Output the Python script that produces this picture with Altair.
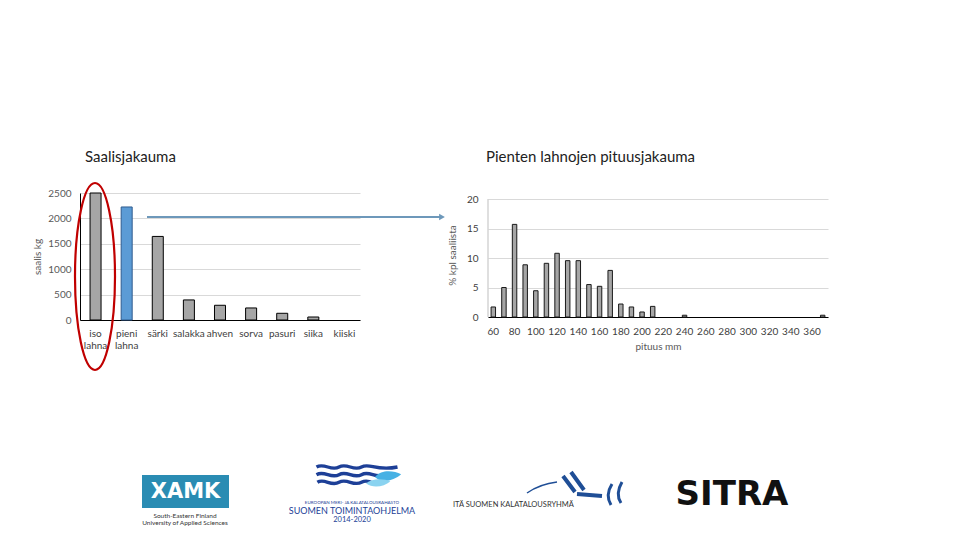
import altair as alt
import pandas as pd

# ---------------- data ----------------
species = ["iso lahna", "pieni lahna", "särki", "salakka", "ahven",
           "sorva", "pasuri", "siika", "kiiski"]
catch_kg = [2500, 2225, 1645, 395, 290, 237, 132, 59, 0]
highlight = "pieni lahna"
catch_ticks = [0, 500, 1000, 1500, 2000, 2500]

lengths_mm = [60, 70, 80, 90, 100, 110, 120, 130, 140, 150, 160, 170, 180,
              190, 200, 210, 220, 230, 240, 250, 260, 270, 280, 290, 300,
              310, 320, 330, 340, 350, 360, 370]
share_pct = [1.7, 5.0, 15.7, 8.85, 4.45, 9.1, 10.8, 9.55, 9.55, 5.5, 5.2,
             7.9, 2.2, 1.7, 0.85, 1.8, 0, 0, 0.3, 0, 0, 0, 0, 0, 0,
             0, 0, 0, 0, 0, 0, 0.3]
length_ticks = [60, 80, 100, 120, 140, 160, 180, 200, 220, 240, 260, 280,
                300, 320, 340, 360]
share_ticks = [0, 5, 10, 15, 20]

left_df = pd.DataFrame({"laji": species, "saalis": catch_kg})
right_df = pd.DataFrame({"pituus": lengths_mm, "osuus": share_pct})

GRAY = "#a6a6a6"
BLUE = "#5b9bd5"
ONE = alt.Data(values=[{"k": 1}])


def text_layer(txt, x, y, size, color="#222222", weight="normal",
               font="Lato", align="center"):
    return alt.Chart(ONE).mark_text(
        text=txt, fontSize=size, color=color, fontWeight=weight, font=font,
        align=align, baseline="middle"
    ).encode(x=alt.value(x), y=alt.value(y))


def path_layer(path, x, y, r, color, width=1.0, filled=False):
    kw = dict(shape=path, size=(2 * r) ** 2, filled=filled, color=color,
              opacity=1)
    if not filled:
        kw["strokeWidth"] = width
    return alt.Chart(ONE).mark_point(**kw).encode(x=alt.value(x), y=alt.value(y))


# ---------------- left chart ----------------
left_stroke = (
    alt.when(alt.datum.saalis <= 0).then(alt.value("transparent"))
    .when(alt.datum.laji == highlight).then(alt.value("#2f5b8f"))
    .otherwise(alt.value("#000000"))
)

bars_left = alt.Chart(left_df).mark_bar(strokeWidth=1).encode(
    x=alt.X("laji:N", sort=species,
            scale=alt.Scale(paddingInner=0.646, paddingOuter=0.323),
            axis=alt.Axis(title=None, labelAngle=0, labelPadding=8,
                          labelExpr="split(datum.label, ' ')",
                          labelLineHeight=12, labelColor="#404040",
                          grid=False, domainColor="#000000")),
    y=alt.Y("saalis:Q", scale=alt.Scale(domain=[0, 2500], nice=False),
            axis=alt.Axis(title="saalis kg", values=catch_ticks, format="d",
                          labelPadding=9, titlePadding=5, grid=True,
                          domainColor="#000000")),
    fill=alt.condition(alt.datum.laji == highlight, alt.value(BLUE), alt.value(GRAY)),
    stroke=left_stroke,
)

# invisible frame fixing the slide area (page 8..952 x 8..532)
frame = alt.Chart(ONE).mark_rect(opacity=0).encode(
    x=alt.value(-72), x2=alt.value(872), y=alt.value(-185), y2=alt.value(339))

ell_a = 0.214
ell_k = 0.118
ellipse_path = (f"M 0 -1 C {ell_k} -1 {ell_a} -0.552 {ell_a} 0 "
                f"C {ell_a} 0.552 {ell_k} 1 0 1 "
                f"C -{ell_k} 1 -{ell_a} 0.552 -{ell_a} 0 "
                f"C -{ell_a} -0.552 -{ell_k} -1 0 -1 Z")
ellipse = path_layer(ellipse_path, 15, 83.5, 93.5, "#c00000", 2.2)

arrow_line = alt.Chart(ONE).mark_rule(color="#6d98ba", strokeWidth=2).encode(
    x=alt.value(67), x2=alt.value(360), y=alt.value(24))
arrow_head = alt.Chart(ONE).mark_point(
    shape="triangle-right", size=45, filled=True, color="#6d98ba", opacity=1
).encode(x=alt.value(362), y=alt.value(24))

title_left = text_layer("Saalisjakauma", 5, -36, 15, align="left")
title_right = text_layer("Pienten lahnojen pituusjakauma", 406, -36, 15, align="left")

# --- logos (approximations) ---
xamk_box = alt.Chart(ONE).mark_rect(color="#2a8cb3").encode(
    x=alt.value(62), x2=alt.value(149), y=alt.value(282), y2=alt.value(315))
xamk_txt = text_layer("XAMK", 105.5, 298.5, 21, color="white", weight="bold",
                      font="DejaVu Sans")
xamk_l1 = text_layer("South-Eastern Finland", 105, 323, 6.5, color="#333333")
xamk_l2 = text_layer("University of Applied Sciences", 105, 330, 6.5, color="#333333")


def wave(Y, x_start=-0.9, x_end=0.6):
    return (f"M {x_start} {Y} C -0.72 {Y - 0.1} -0.58 {Y + 0.1} -0.4 {Y} "
            f"C -0.22 {Y - 0.1} -0.08 {Y + 0.1} 0.1 {Y} "
            f"C 0.28 {Y - 0.1} 0.42 {Y + 0.1} {x_end} {Y} ")


waves_path = wave(-0.2, -0.9, 0.9) + wave(-0.03) + wave(0.14, -0.88, 0.4)
fish_waves = path_layer(waves_path, 277, 283, 45, "#1d3f97", 3.4)
fish1 = path_layer("M 0.4 0.02 C 0.55 -0.16 0.82 -0.12 0.98 -0.04 "
                   "C 0.82 0.1 0.55 0.18 0.4 0.02 Z",
                   277, 283, 45, "#46b1e4", filled=True)
fish2 = path_layer("M 0.2 0.16 C 0.35 0.04 0.6 0.06 0.74 0.12 "
                   "C 0.6 0.24 0.35 0.28 0.2 0.16 Z",
                   277, 283, 45, "#8ad3f0", filled=True)
emkr1 = text_layer("EUROOPAN MERI- JA KALATALOUSRAHASTO", 272, 309.5, 4.5, color="#1d3f97")
emkr2 = text_layer("SUOMEN TOIMINTAOHJELMA", 272, 318, 9, color="#1d3f97")
emkr3 = text_layer("2014-2020", 272, 327, 7.5, color="#1d3f97")

ita_txt = text_layer("ITÄ SUOMEN KALATALOUSRYHMÄ", 373, 312, 7.5,
                     color="#333333", align="left")
ita_thin = path_layer("M -0.96 0.1 Q -0.7 -0.08 -0.36 -0.12", 495, 295, 50,
                      "#1f4e96", 1.5)
ita_thick = path_layer("M -0.24 -0.24 L 0 0.08 M -0.08 -0.32 L 0.18 0.04 "
                       "M 0.04 0.12 L 0.54 0.16", 495, 295, 50, "#1f4e96", 4)
ita_par = path_layer("M 0.74 -0.08 Q 0.6 0.14 0.72 0.34 "
                     "M 0.94 -0.12 Q 0.8 0.12 0.92 0.3", 495, 295, 50, "#1f4e96", 3)

sitra = text_layer("SITRA", 652, 302, 34, color="#111111", weight="bold",
                   font="DejaVu Sans")

left = alt.layer(
    frame, bars_left, ellipse, arrow_line, arrow_head, title_left, title_right,
    xamk_box, xamk_txt, xamk_l1, xamk_l2, fish_waves, fish1, fish2,
    emkr1, emkr2, emkr3, ita_txt, ita_thin, ita_thick, ita_par, sitra
).properties(width=280, height=127)

# ---------------- right chart ----------------
share_axis = alt.Axis(title="% kpl saaliista", values=share_ticks,
                      labelPadding=10, titlePadding=9, grid=True,
                      domain=False, labelColor="#404040")
share_scale = alt.Scale(domain=[0, 21.02], nice=False)

bars_right = alt.Chart(right_df).mark_bar(
    fill=GRAY, strokeWidth=1
).encode(
    x=alt.X("pituus:O", sort="ascending",
            scale=alt.Scale(paddingInner=0.58, paddingOuter=0.29),
            axis=alt.Axis(title="pituus mm", values=length_ticks, labelAngle=0,
                          labelPadding=9, titlePadding=5, grid=False,
                          domainColor="#000000", labelColor="#404040")),
    y=alt.Y("osuus:Q", scale=share_scale, axis=share_axis),
    stroke=alt.condition(alt.datum.osuus <= 0, alt.value("transparent"),
                         alt.value("#1a1a1a")),
)
y_line = alt.Chart(ONE).mark_rule(color="#bfbfbf", strokeWidth=1).encode(
    x=alt.value(0),
    y=alt.Y(datum=0, type="quantitative", scale=share_scale, axis=share_axis),
    y2=alt.datum(20))

right = alt.layer(bars_right, y_line).properties(width=340, height=124)

chart = alt.hconcat(left, right, spacing=128, bounds="flush").properties(
    padding=0, background="white"
).configure_view(stroke=None).configure_axis(
    labelFont="Lato", titleFont="Lato", labelFontSize=10, titleFontSize=10,
    titleFontWeight="normal", labelColor="#595959", titleColor="#595959",
    ticks=False, gridColor="#d9d9d9", gridWidth=1
)

chart.save("out.html", embed_options={"renderer": "svg", "actions": False})
